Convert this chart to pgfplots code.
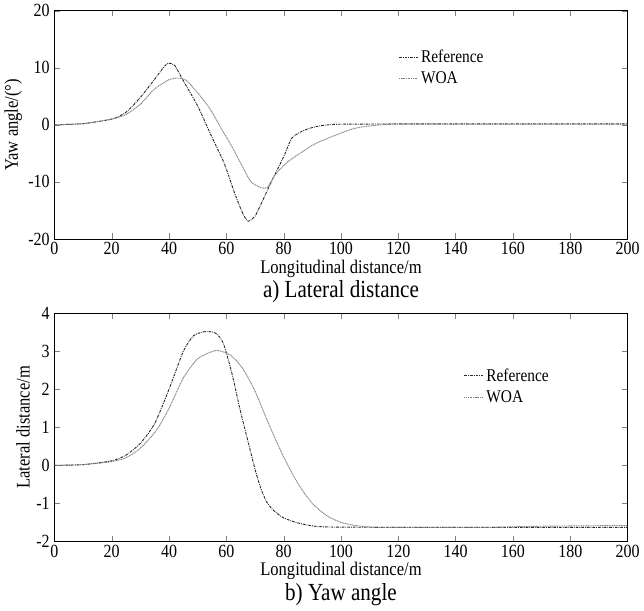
\documentclass[border=0pt]{standalone}
\usepackage{pgfplots}
\pgfplotsset{compat=1.18}
\usepackage{fontspec}
\setmainfont{Liberation Serif}[FakeStretch=0.86]
\pgfplotsset{
  myax/.style={
    scale only axis, width=432pt, height=172pt,
    xmin=0, xmax=200, xtick={0,20,...,200},
    tick align=inside, tick pos=both,
    /pgf/number format/assume math mode=true,
    ticklabel style={font=\fontsize{14}{15}\selectfont},
    label style={font=\fontsize{14.5}{16}\selectfont},
    xlabel={Longitudinal distance/m},
    xticklabel style={yshift=1pt},
    xlabel style={yshift=3pt},
    ylabel style={yshift=-2pt},
    legend style={draw=none, fill=none, font=\fontsize{13.5}{15}\selectfont, row sep=1.5pt, inner sep=0pt},
    legend cell align=left,
    legend image code/.code={\draw[#1] (0cm,0cm) -- (0.5cm,0cm);},
    every axis plot/.append style={line width=0.7pt},
  },
  refl/.style={black!85, dash pattern=on 2pt off 0.8pt on 0.6pt off 0.8pt},
  woal/.style={black!50, dash pattern=on 0.8pt off 0.5pt},
}
\begin{document}
\begin{tikzpicture}
\begin{axis}[myax, name=top, ymin=-20, ymax=20, ytick={-20,-10,0,10,20},
  ylabel={Yaw angle/(°)},
  legend style={at={(rel axis cs:0.6,0.84)}, anchor=north west}]
\addplot[refl, smooth, tension=0.4] coordinates {
(0,0) (10,0.2) (20,1.0) (25,2.2) (30,4.8) (35,8.0) (38,10.0) (39.7,10.8) (42,10.4) (45,7.7) (50,3.3) (55,-2.2) (59.3,-6.8) (62.9,-12) (65.7,-15.5) (67.6,-16.9) (70,-16) (72,-14) (75.7,-10) (80,-5.6) (82.9,-2.3) (87,-1.0) (91.4,-0.3) (95.7,0) (100,0.1) (120,0.15) (160,0.15) (200,0.15)};
\addlegendentry{Reference}
\addplot[woal, smooth, tension=0.4] coordinates {
(0,0) (10,0.2) (20,1.0) (25,1.8) (30,3.6) (35,6.3) (40,7.9) (43,8.2) (46,7.8) (50,5.6) (54.3,2.8) (58.6,-1.0) (61.4,-3.3) (65.7,-7.4) (68.6,-10) (72,-11) (74.3,-11) (77,-8.8) (81.4,-6.5) (90,-3.6) (95.7,-2.3) (102.9,-0.9) (107,-0.4) (113,-0.05) (118.6,0.1) (140,0.1) (170,0.1) (200,0.1)};
\addlegendentry{WOA}
\end{axis}
\node[font=\fontsize{18.5}{20}\selectfont] at ([yshift=-40pt]top.south) {a) Lateral distance};
\begin{axis}[myax, name=bot, at={(top.south west)}, anchor=north west, yshift=-56pt,
  ymin=-2, ymax=4, ytick={-2,-1,0,1,2,3,4},
  ylabel={Lateral distance/m},
  legend style={at={(rel axis cs:0.714,0.77)}, anchor=north west}]
\addplot[refl, smooth, tension=0.4] coordinates {
(0,0) (10,0.02) (20,0.12) (25,0.27) (30,0.58) (35,1.1) (40,2.0) (45,3.0) (48.6,3.41) (52.9,3.52) (56.4,3.47) (59,3.2) (62,2.4) (65,1.4) (68,0.5) (70,-0.1) (72,-0.6) (74,-0.95) (76,-1.15) (78,-1.28) (80,-1.38) (84.3,-1.5) (90,-1.59) (95.7,-1.62) (120,-1.63) (160,-1.63) (200,-1.63)};
\addlegendentry{Reference}
\addplot[woal, smooth, tension=0.4] coordinates {
(0,0) (10,0.02) (20,0.1) (25,0.2) (30,0.45) (35.7,0.93) (40,1.5) (45,2.3) (50,2.8) (56.4,3.02) (61.4,2.9) (65.7,2.55) (70,1.95) (75,1.05) (80,0.22) (85,-0.48) (90,-1.0) (95,-1.32) (100,-1.5) (105,-1.58) (110,-1.62) (120,-1.63) (150,-1.63) (170,-1.6) (200,-1.58)};
\addlegendentry{WOA}
\end{axis}
\node[font=\fontsize{18.5}{20}\selectfont] at ([yshift=-40pt]bot.south) {b) Yaw angle};
\end{tikzpicture}
\end{document}
